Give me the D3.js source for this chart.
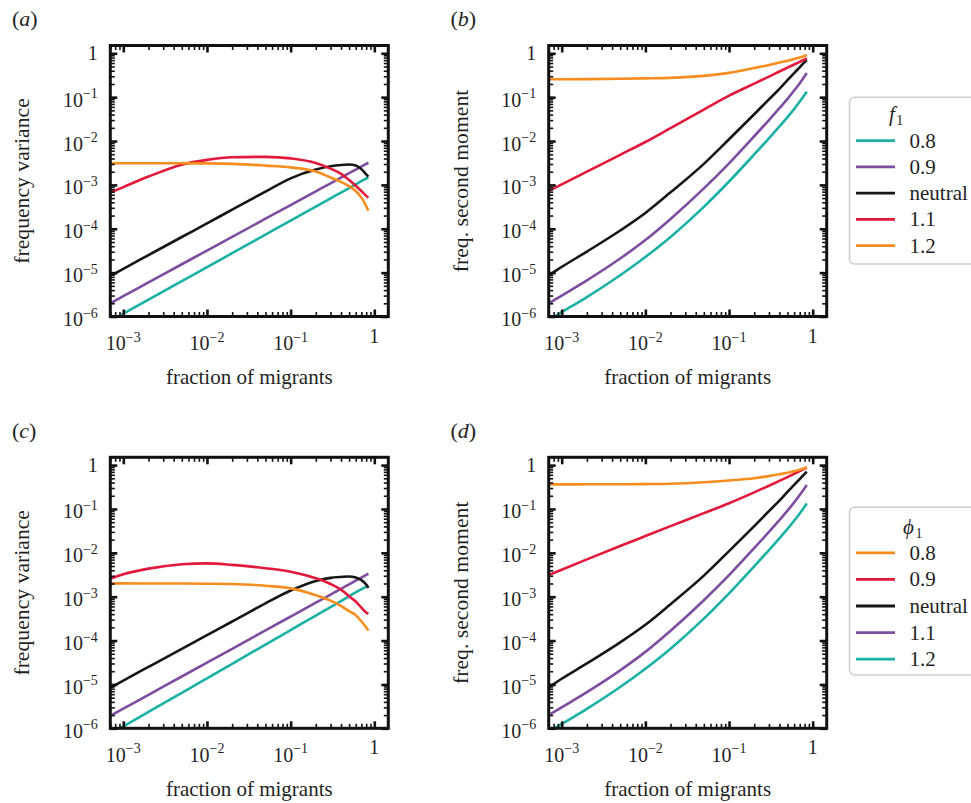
<!DOCTYPE html>
<html>
<head>
<meta charset="utf-8">
<script src="https://cdn.jsdelivr.net/npm/d3@7"></script>
<style>
  body { margin: 0; background: #fff; }
  svg { display: block; font-family: "Liberation Serif", "Times New Roman", serif; }
</style>
</head>
<body>
<div id="fig"></div>
<script>
// Four log-log panels: variance and second moment vs fraction of migrants

// fraction of migrants, shared sample grid of every curve
const migrants = [7e-4, 1e-3, 2e-3, 5e-3, 1e-2, 2e-2, 5e-2, 0.1, 0.2, 0.3, 0.4, 0.5, 0.6, 0.7, 0.8, 0.85]

// values, kept as log10(value)
// (a) frequency variance, f1
const aTeal   = [-6.10, -5.936, -5.617, -5.194, -4.875, -4.556, -4.133, -3.813, -3.494, -3.307, -3.174, -3.071, -2.987, -2.916, -2.854, -2.827]
const aPurple = [-5.70, -5.535, -5.223, -4.809, -4.497, -4.184, -3.771, -3.459, -3.146, -2.964, -2.834, -2.733, -2.651, -2.582, -2.521, -2.494]
const aBlack  = [-5.075, -4.912, -4.600, -4.188, -3.877, -3.565, -3.153, -2.85, -2.65, -2.575, -2.545, -2.535, -2.56, -2.64, -2.76, -2.81]
const aRed    = [-3.175, -3.05, -2.81, -2.54, -2.43, -2.37, -2.36, -2.395, -2.50, -2.63, -2.75, -2.89, -3.02, -3.14, -3.25, -3.29]
const aOrange = [-2.505, -2.505, -2.506, -2.508, -2.51, -2.52, -2.56, -2.60, -2.695, -2.83, -2.93, -3.03, -3.14, -3.29, -3.48, -3.59]

// (b) freq. second moment, f1
const bTeal   = [-6.08, -5.902, -5.556, -5.059, -4.643, -4.186, -3.501, -2.923, -2.306, -1.937, -1.668, -1.455, -1.269, -1.101, -0.947, -0.874]
const bPurple = [-5.70, -5.522, -5.176, -4.679, -4.258, -3.776, -3.08, -2.508, -1.891, -1.521, -1.252, -1.039, -0.849, -0.681, -0.525, -0.449]
const bBlack  = [-5.06, -4.87, -4.52, -4.04, -3.64, -3.17, -2.52, -1.96, -1.39, -1.05, -0.81, -0.61, -0.45, -0.32, -0.20, -0.155]
const bRed    = [-3.137, -2.987, -2.697, -2.314, -2.022, -1.705, -1.284, -0.966, -0.69, -0.53, -0.415, -0.327, -0.255, -0.194, -0.141, -0.118]
const bOrange = [-0.593, -0.592, -0.588, -0.581, -0.572, -0.56, -0.515, -0.447, -0.335, -0.265, -0.21, -0.17, -0.13, -0.095, -0.06, -0.04]

// (c) frequency variance, phi1
const cTeal   = [-6.12, -5.957, -5.627, -5.19, -4.86, -4.53, -4.09, -3.76, -3.43, -3.24, -3.10, -2.99, -2.90, -2.83, -2.77, -2.74]
const cPurple = [-5.715, -5.553, -5.237, -4.819, -4.503, -4.187, -3.769, -3.453, -3.137, -2.952, -2.821, -2.719, -2.636, -2.566, -2.505, -2.477]
const cBlack  = [-5.075, -4.912, -4.600, -4.188, -3.877, -3.565, -3.153, -2.86, -2.64, -2.57, -2.55, -2.54, -2.56, -2.62, -2.72, -2.80]
const cRed    = [-2.59, -2.49, -2.36, -2.26, -2.24, -2.275, -2.35, -2.43, -2.58, -2.71, -2.84, -2.99, -3.11, -3.25, -3.36, -3.39]
const cOrange = [-2.697, -2.697, -2.698, -2.70, -2.705, -2.712, -2.75, -2.81, -2.965, -3.09, -3.21, -3.33, -3.42, -3.56, -3.70, -3.77]

// (d) freq. second moment, phi1
const dTeal   = [-6.08, -5.902, -5.556, -5.059, -4.643, -4.186, -3.501, -2.923, -2.306, -1.937, -1.668, -1.455, -1.269, -1.101, -0.947, -0.874]
const dPurple = [-5.70, -5.522, -5.176, -4.679, -4.258, -3.776, -3.08, -2.508, -1.891, -1.521, -1.252, -1.039, -0.849, -0.681, -0.528, -0.455]
const dBlack  = [-5.06, -4.87, -4.52, -4.04, -3.64, -3.17, -2.52, -1.96, -1.39, -1.05, -0.81, -0.61, -0.45, -0.32, -0.20, -0.152]
const dRed    = [-2.507, -2.385, -2.150, -1.845, -1.618, -1.392, -1.095, -0.868, -0.621, -0.470, -0.360, -0.273, -0.200, -0.137, -0.081, -0.056]
const dOrange = [-0.44, -0.44, -0.438, -0.436, -0.433, -0.425, -0.39, -0.35, -0.30, -0.25, -0.21, -0.175, -0.14, -0.105, -0.07, -0.05]

const legendLabels = ["0.8", "0.9", "neutral", "1.1", "1.2"]
const xMajor = [1e-3, 1e-2, 1e-1, 1]
const yMajor = [1e-6, 1e-5, 1e-4, 1e-3, 1e-2, 1e-1, 1]

const TEAL = "#1bb1a4", PURPLE = "#7d4ea0", BLACK = "#161616", RED = "#e1193c", ORANGE = "#f78d1f"
const TEXT = "#1f1f1f"

const W = 278, H = 271

const svg = d3.select("#fig").append("svg")
  .attr("width", 971)
  .attr("height", 803)

// minor ticks 2..9 x 10^k inside a domain
function minorTicks(domain) {
  const out = []
  for (let k = -7; k <= 1; k++) {
    for (let j = 2; j <= 9; j++) {
      const v = j * Math.pow(10, k)
      if (v > domain[0] && v < domain[1]) out.push(v)
    }
  }
  return out
}

// write 10^k (or 1) into a text node
function powerLabel(sel, v) {
  const k = Math.round(Math.log10(v))
  if (k === 0) { sel.text("1"); return }
  sel.append("tspan").text("10")
  sel.append("tspan").attr("font-size", 14).attr("dy", -8.5).text("\u2212" + Math.abs(k))
}

const panels = [
  { tag: "a", left: 110.3, top: 45.5, ylab: "frequency variance",
    series: [[aTeal, TEAL], [aPurple, PURPLE], [aBlack, BLACK], [aRed, RED], [aOrange, ORANGE]] },
  { tag: "b", left: 548.7, top: 45.5, ylab: "freq. second moment",
    series: [[bTeal, TEAL], [bPurple, PURPLE], [bBlack, BLACK], [bRed, RED], [bOrange, ORANGE]] },
  { tag: "c", left: 110.3, top: 457.3, ylab: "frequency variance",
    series: [[cTeal, TEAL], [cPurple, PURPLE], [cBlack, BLACK], [cRed, RED], [cOrange, ORANGE]] },
  { tag: "d", left: 548.7, top: 457.3, ylab: "freq. second moment",
    series: [[dTeal, TEAL], [dPurple, PURPLE], [dBlack, BLACK], [dRed, RED], [dOrange, ORANGE]] }
]

panels.forEach(function(p) {
  const x = d3.scaleLog().domain([6.99e-4, 1.47]).range([0, W])
  const y = d3.scaleLog().domain([1e-6, 1.506]).range([H, 0])

  const g = svg.append("g").attr("transform", `translate(${p.left},${p.top})`)

  g.append("clipPath").attr("id", "clip-" + p.tag)
    .append("rect").attr("width", W).attr("height", H)

  const line = d3.line()
    .x((d, i) => x(migrants[i]))
    .y(d => y(Math.pow(10, d)))
    .curve(d3.curveMonotoneX)

  g.append("g").attr("clip-path", `url(#clip-${p.tag})`)
    .selectAll("path")
    .data(p.series)
    .enter()
    .append("path")
      .attr("d", d => line(d[0]))
      .attr("fill", "none")
      .attr("stroke", d => d[1])
      .attr("stroke-width", 2.6)
      .attr("stroke-linejoin", "round")

  // inward ticks on all four sides
  const xMinor = minorTicks(x.domain())
  const yMinor = minorTicks(y.domain())
  const sides = [
    [d3.axisBottom, x, `translate(0,${H})`],
    [d3.axisTop, x, "translate(0,0)"],
    [d3.axisLeft, y, "translate(0,0)"],
    [d3.axisRight, y, `translate(${W},0)`]
  ]
  sides.forEach(function([axisFn, scale, tr]) {
    const isX = scale === x
    const maj = g.append("g").attr("transform", tr)
      .call(axisFn(scale).tickValues(isX ? xMajor : yMajor).tickSize(-7).tickFormat(""))
    const mnr = g.append("g").attr("transform", tr)
      .call(axisFn(scale).tickValues(isX ? xMinor : yMinor).tickSize(-4.5).tickFormat(""))
    maj.select(".domain").remove()
    mnr.select(".domain").remove()
    maj.selectAll("line").attr("stroke", "#111").attr("stroke-width", 2.6)
    mnr.selectAll("line").attr("stroke", "#111").attr("stroke-width", 1.6)
  })

  g.append("rect")
    .attr("width", W).attr("height", H)
    .attr("fill", "none")
    .attr("stroke", "#111")
    .attr("stroke-width", 3)

  // tick labels
  g.selectAll(".xl").data(xMajor).enter().append("text")
    .attr("x", d => x(d))
    .attr("y", d => d === 1 ? H + 26 : H + 33.5)
    .attr("text-anchor", "middle")
    .attr("font-size", 20)
    .attr("fill", TEXT)
    .each(function(d) { powerLabel(d3.select(this), d) })

  g.selectAll(".yl").data(yMajor).enter().append("text")
    .attr("x", -12.5)
    .attr("y", d => y(d) + (d === 1 ? 7 : 9.5))
    .attr("text-anchor", "end")
    .attr("font-size", 20)
    .attr("fill", TEXT)
    .each(function(d) { powerLabel(d3.select(this), d) })

  // axis titles
  g.append("text")
    .attr("x", W / 2).attr("y", H + 67.5)
    .attr("text-anchor", "middle")
    .attr("font-size", 21)
    .attr("fill", TEXT)
    .text("fraction of migrants")

  g.append("text")
    .attr("transform", `translate(-81,${H / 2}) rotate(-90)`)
    .attr("text-anchor", "middle")
    .attr("font-size", 21.7)
    .attr("fill", TEXT)
    .text(p.ylab)

  // panel tag (a) ...
  const t = svg.append("text")
    .attr("x", p.left - 98.3).attr("y", p.top - 19.5)
    .attr("font-size", 22)
    .attr("fill", TEXT)
  t.append("tspan").text("(")
  t.append("tspan").attr("font-style", "italic").text(p.tag)
  t.append("tspan").text(")")
})

// legends
const legends = [
  { top: 97.3, h: 166.7, first: 140.7, step: 26.25, sym: "f", symX: 889, symY: 121,
    colors: [TEAL, PURPLE, BLACK, RED, ORANGE] },
  { top: 507.3, h: 167.7, first: 552.8, step: 26.6, sym: "\u03d5", symX: 903, symY: 534,
    colors: [ORANGE, RED, BLACK, PURPLE, TEAL] }
]

legends.forEach(function(L) {
  const lg = svg.append("g")
  lg.append("rect")
    .attr("x", 849.5).attr("y", L.top)
    .attr("width", 150).attr("height", L.h)
    .attr("rx", 5)
    .attr("fill", "#fff")
    .attr("stroke", "#cfcfcf")
    .attr("stroke-width", 1.6)

  const title = lg.append("text")
    .attr("x", L.symX).attr("y", L.symY)
    .attr("font-size", 21)
    .attr("fill", TEXT)
  title.append("tspan").attr("font-style", "italic").text(L.sym)
  title.append("tspan").attr("font-size", 14).attr("dx", 1.5).attr("dy", 3.5).text("1")

  const rows = lg.selectAll(".row").data(legendLabels).enter().append("g")
    .attr("transform", (d, i) => `translate(0,${L.first + i * L.step})`)
  rows.append("line")
    .attr("x1", 856).attr("x2", 895)
    .attr("stroke", (d, i) => L.colors[i])
    .attr("stroke-width", 2.8)
  rows.append("text")
    .attr("x", 909.5).attr("y", 7)
    .attr("font-size", 21)
    .attr("fill", TEXT)
    .text(d => d)
})
</script>
</body>
</html>
